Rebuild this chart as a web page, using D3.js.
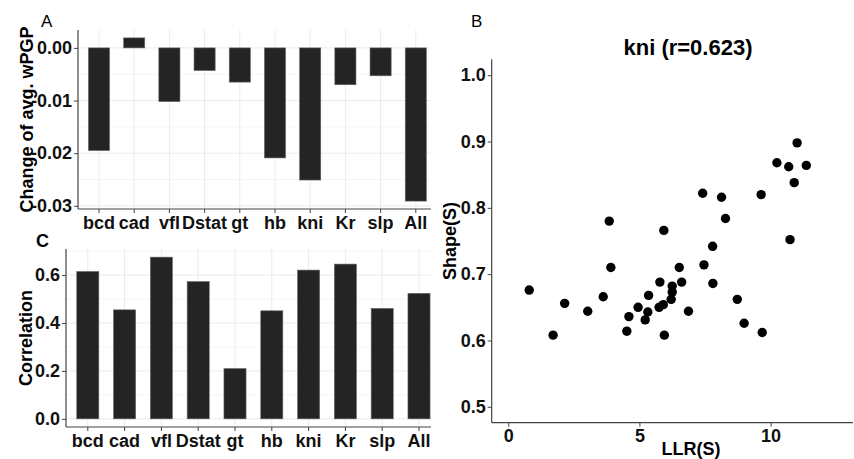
<!DOCTYPE html>
<html>
<head>
<meta charset="utf-8">
<script src="https://cdn.jsdelivr.net/npm/d3@7"></script>
<style>
  body { margin: 0; background: #fff; }
  svg { display: block; font-family: "Liberation Sans", Arial, sans-serif; }
  .tick text { font-weight: bold; fill: #111; }
  .tick line { stroke: #444; }
  .grid-major { stroke: #ebebeb; stroke-width: 1; }
  .grid-minor { stroke: #f5f5f5; stroke-width: 1; }
  .axis-line { stroke: #444; stroke-width: 1.2; }
  .bar { fill: #242424; stroke: #666; stroke-width: 0.6; }
</style>
</head>
<body>
<div id="chart"></div>
<script>
// genes on the bar charts (panels A and C)
var genes = ["bcd", "cad", "vfl", "Dstat", "gt", "hb", "kni", "Kr", "slp", "All"];
// panel A: change of average wPGP
var wpgpChange = [-0.0195, 0.0019, -0.0102, -0.0043, -0.0065, -0.0209, -0.0251, -0.0070, -0.0053, -0.0291];
// panel C: correlation
var correlation = [0.615, 0.455, 0.675, 0.573, 0.210, 0.451, 0.621, 0.646, 0.461, 0.524];
// panel B: kni scatter, LLR(S) vs Shape(S)
var llr = [11.01, 10.24, 10.69, 11.36, 10.90, 7.41, 8.13, 9.64, 8.28, 3.85,
           5.93, 10.74, 7.79, 3.91, 6.52, 7.46, 0.80, 2.15, 3.03, 3.62,
           1.71, 4.60, 4.52, 4.95, 5.35, 5.32, 5.22, 5.78, 5.75, 5.91,
           5.95, 6.25, 6.25, 6.21, 6.61, 6.87, 7.80, 8.73, 8.99, 9.68];
var shape = [0.898, 0.868, 0.862, 0.864, 0.838, 0.822, 0.816, 0.820, 0.784, 0.780,
             0.766, 0.752, 0.742, 0.710, 0.710, 0.714, 0.676, 0.656, 0.644, 0.666,
             0.608, 0.636, 0.614, 0.650, 0.668, 0.643, 0.631, 0.688, 0.650, 0.654,
             0.608, 0.682, 0.673, 0.662, 0.688, 0.644, 0.686, 0.662, 0.626, 0.612];
var ticksA = [0, -0.01, -0.02, -0.03];
var minorA = [-0.005, -0.015, -0.025];
var ticksC = [0, 0.2, 0.4, 0.6];
var minorC = [0.1, 0.3, 0.5, 0.7];
var ticksBx = [0, 5, 10];
var ticksBy = [0.5, 0.6, 0.7, 0.8, 0.9, 1.0];

var width = 854, height = 459;
var svg = d3.select("#chart").append("svg")
    .attr("width", width)
    .attr("height", height);

var defs = svg.append("defs");

function barPanel(cfg) {
    var g = svg.append("g").classed(cfg.name, true);

    defs.append("clipPath").attr("id", "clip-" + cfg.name)
        .append("rect")
        .attr("x", cfg.left).attr("y", cfg.top)
        .attr("width", cfg.right - cfg.left).attr("height", cfg.bottom - cfg.top);

    var x = d3.scaleBand().domain(genes).range(cfg.xRange).paddingInner(0.4).paddingOuter(0.2);
    var y = d3.scaleLinear().domain(cfg.yDomain).range([cfg.bottom, cfg.top]);

    // axis title first, so the tick labels sit on top of it
    g.append("text")
        .attr("transform", "translate(" + cfg.titleX + "," + ((cfg.top + cfg.bottom) / 2) + ") rotate(-90)")
        .attr("text-anchor", "middle")
        .style("font-size", "18px")
        .style("font-weight", "bold")
        .text(cfg.title);

    var grid = g.append("g").attr("clip-path", "url(#clip-" + cfg.name + ")");
    grid.selectAll(".grid-minor")
        .data(cfg.minor)
        .enter().append("line")
            .classed("grid-minor", true)
            .attr("x1", cfg.left).attr("x2", cfg.right)
            .attr("y1", function(d) { return y(d); })
            .attr("y2", function(d) { return y(d); });
    grid.selectAll(".grid-major.h")
        .data(cfg.ticks)
        .enter().append("line")
            .attr("class", "grid-major h")
            .attr("x1", cfg.left).attr("x2", cfg.right)
            .attr("y1", function(d) { return y(d); })
            .attr("y2", function(d) { return y(d); });
    grid.selectAll(".grid-major.v")
        .data(genes)
        .enter().append("line")
            .attr("class", "grid-major v")
            .attr("x1", function(d) { return x(d) + x.bandwidth() / 2; })
            .attr("x2", function(d) { return x(d) + x.bandwidth() / 2; })
            .attr("y1", cfg.top).attr("y2", cfg.bottom);

    grid.selectAll(".bar")
        .data(cfg.values)
        .enter().append("rect")
            .classed("bar", true)
            .attr("x", function(d, i) { return x(genes[i]); })
            .attr("width", x.bandwidth())
            .attr("y", function(d) { return y(Math.max(0, d)); })
            .attr("height", function(d) { return Math.abs(y(d) - y(0)); });

    var yAxis = g.append("g")
        .attr("transform", "translate(" + cfg.left + ",0)")
        .call(d3.axisLeft(y).tickValues(cfg.ticks).tickSize(4).tickPadding(2).tickFormat(cfg.fmt));
    yAxis.select(".domain").remove();
    yAxis.selectAll("text").style("font-size", "18px");

    var xAxis = g.append("g")
        .attr("transform", "translate(0," + cfg.bottom + ")")
        .call(d3.axisBottom(x).tickSize(4).tickPadding(3));
    xAxis.select(".domain").remove();
    xAxis.selectAll("text").style("font-size", "18px");

    g.append("line").classed("axis-line", true)
        .attr("x1", cfg.left).attr("x2", cfg.left)
        .attr("y1", cfg.top).attr("y2", cfg.bottom);
    g.append("line").classed("axis-line", true)
        .attr("x1", cfg.left).attr("x2", cfg.right)
        .attr("y1", cfg.bottom).attr("y2", cfg.bottom);

    return g;
}

barPanel({
    name: "panel-a",
    left: 78, right: 431, top: 30, bottom: 209,
    xRange: [81.4, 433.4],
    yDomain: [-0.0306, 0.0034],
    ticks: ticksA, minor: minorA,
    values: wpgpChange,
    fmt: function(d) { return d.toFixed(2); },
    title: "Change of avg. wPGP",
    titleX: 33
});

barPanel({
    name: "panel-c",
    left: 66, right: 431, top: 249, bottom: 427,
    xRange: [69.4, 437.4],
    yDomain: [-0.034, 0.709],
    ticks: ticksC, minor: minorC,
    values: correlation,
    fmt: function(d) { return d.toFixed(1); },
    title: "Correlation",
    titleX: 32
});

// panel B scatter
var bLeft = 491.7, bRight = 853, bTop = 59.3, bBottom = 422.7;
var xB = d3.scaleLinear().domain([-0.63, 13.14]).range([bLeft, bRight]);
var yB = d3.scaleLinear().domain([0.476, 1.024]).range([bBottom, bTop]);
var scatter = svg.append("g").classed("panel-b", true);

scatter.append("text")
    .attr("transform", "translate(456," + ((bTop + bBottom) / 2) + ") rotate(-90)")
    .attr("text-anchor", "middle")
    .style("font-size", "18px").style("font-weight", "bold")
    .text("Shape(S)");

var bx = scatter.append("g")
    .attr("transform", "translate(0," + bBottom + ")")
    .call(d3.axisBottom(xB).tickValues(ticksBx).tickSize(4).tickPadding(3));
bx.select(".domain").remove();
bx.selectAll("text").style("font-size", "18px");

var by = scatter.append("g")
    .attr("transform", "translate(" + bLeft + ",0)")
    .call(d3.axisLeft(yB).tickValues(ticksBy).tickSize(4).tickPadding(2).tickFormat(d3.format(".1f")));
by.select(".domain").remove();
by.selectAll("text").style("font-size", "18px");

scatter.append("line").classed("axis-line", true)
    .attr("x1", bLeft).attr("x2", bLeft).attr("y1", bTop).attr("y2", bBottom);
scatter.append("line").classed("axis-line", true)
    .attr("x1", bLeft).attr("x2", bRight).attr("y1", bBottom).attr("y2", bBottom);

scatter.selectAll(".dot")
    .data(llr)
    .enter().append("circle")
        .classed("dot", true)
        .attr("cx", function(d) { return xB(d); })
        .attr("cy", function(d, i) { return yB(shape[i]); })
        .attr("r", 4.7)
        .style("fill", "#000");

scatter.append("text")
    .attr("x", 688).attr("y", 55)
    .attr("text-anchor", "middle")
    .style("font-size", "22px").style("font-weight", "bold")
    .text("kni (r=0.623)");

scatter.append("text")
    .attr("x", 691).attr("y", 455)
    .attr("text-anchor", "middle")
    .style("font-size", "18px").style("font-weight", "bold")
    .text("LLR(S)");

// panel letters
svg.append("text").attr("x", 41).attr("y", 27).style("font-size", "17px").text("A");
svg.append("text").attr("x", 471).attr("y", 27).style("font-size", "17px").text("B");
svg.append("text").attr("x", 36).attr("y", 247).style("font-size", "18px").style("font-weight", "bold").text("C");
</script>
</body>
</html>
